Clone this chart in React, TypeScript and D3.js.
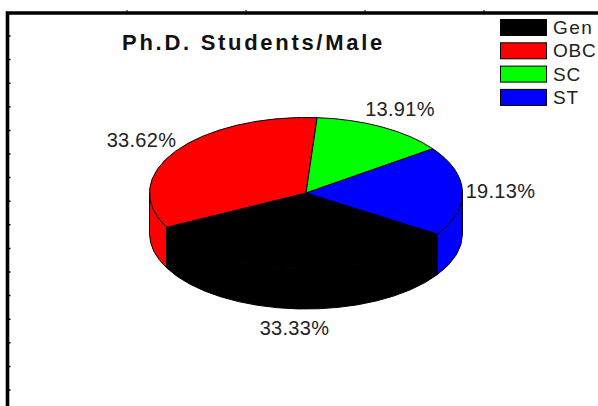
import React from "react";
import * as d3 from "d3";

const categories = ["Gen", "OBC", "SC", "ST"];
const values = [33.33, 33.62, 13.91, 19.13];
const colors = ["#000000", "#ff0000", "#00ff00", "#0000ff"];
const labels = ["33.33%", "33.62%", "13.91%", "19.13%"];
const labelPos: [number, number][] = [[294.5, 335], [141.5, 147], [400, 116], [500.5, 198]];
const leftTicks = d3.range(0, 16);
const topTicks = [0, 1, 2, 3];

const cx = 306, cy = 193, rx = 156.5, ry = 75.5, depth = 40.5;
const START = (123 * Math.PI) / 180;

const pie = d3.pie<number>().sort(null).startAngle(START).endAngle(START + 2 * Math.PI);
const slices = pie(values);
const px = (a: number) => cx + rx * Math.sin(a);
const py = (a: number) => cy - ry * Math.cos(a);
const arc = d3.arc<any>().innerRadius(0).outerRadius(1);

// Side wall of one slice, clipped to the front half of the ellipse
function wall(a0: number, a1: number) {
  const s = Math.max(a0, Math.PI / 2);
  const e = Math.min(a1, (3 * Math.PI) / 2);
  if (e <= s) return null;
  return `M${px(s)},${py(s)}A${rx},${ry} 0 0 1 ${px(e)},${py(e)}L${px(e)},${py(e) + depth}A${rx},${ry} 0 0 0 ${px(s)},${py(s) + depth}Z`;
}
// Walls in angle order, folding wrap-around slices back into 0..2pi
const walls = slices.flatMap((d, i) => {
  const out: { path: string; i: number }[] = [];
  for (const k of [0, -2 * Math.PI]) {
    const p = wall(d.startAngle + k, d.endAngle + k);
    if (p) out.push({ path: p, i });
  }
  return out;
});

export default function App() {
  return (
    <svg width={598} height={406} style={{ position: "fixed", left: 0, top: 0, background: "#fff" }}
      fontFamily="Liberation Sans, Arial, sans-serif">
      <path d="M7.5,406V13H598" fill="none" stroke="#000" strokeWidth={3.6} />
      {leftTicks.map((t) => (
        <line key={t} x1={9} x2={10.5} y1={36 + t * 23.6} y2={36 + t * 23.6} stroke="#000" strokeWidth={1.5} />
      ))}
      {topTicks.map((t) => (
        <line key={t} x1={127 + t * 119} x2={127 + t * 119} y1={10} y2={12} stroke="#000" strokeWidth={1} />
      ))}
      <text x={253.5} y={50} textAnchor="middle" fontSize={22} fontWeight={700} letterSpacing={2.7} fill="#111">
        Ph.D. Students/Male
      </text>

      {walls.map((w, k) => (
        <path key={k} d={w.path} fill={colors[w.i]} stroke="#000" strokeWidth={1} />
      ))}
      <g transform={`translate(${cx},${cy}) scale(${rx},${ry})`}>
        {slices.map((d, i) => (
          <path key={i} d={arc(d) as string} fill={colors[i]} stroke="#000" strokeWidth={1} vectorEffect="non-scaling-stroke" />
        ))}
      </g>

      {labels.map((l, i) => (
        <text key={l} x={labelPos[i][0]} y={labelPos[i][1]} textAnchor="middle" fontSize={20} letterSpacing={0.3} fill="#222">{l}</text>
      ))}

      {categories.map((c, i) => (
        <g key={c}>
          <rect x={500.5} y={19.5 + i * 23.3} width={46} height={16} fill={colors[i]} stroke="#000" strokeWidth={1} />
          <text x={553} y={34 + i * 23.3} fontSize={19} letterSpacing={i === 0 ? 1.5 : 0.8} fill="#222">{c}</text>
        </g>
      ))}
    </svg>
  );
}
